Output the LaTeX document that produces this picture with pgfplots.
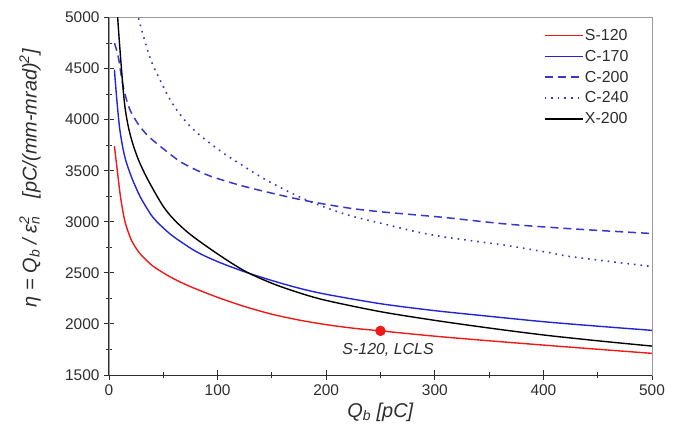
\documentclass[border=0pt]{standalone}
\usepackage{fontspec}
\setmainfont{Liberation Sans}
\usepackage{pgfplots}
\pgfplotsset{compat=1.18}
\definecolor{cred}{RGB}{240,25,25}
\definecolor{cblue}{RGB}{35,35,215}
\definecolor{cblue2}{RGB}{55,55,200}
\definecolor{ctxt}{RGB}{45,45,45}
\begin{document}
\begin{tikzpicture}
\begin{axis}[
  name=ax,
  scale only axis,
  width=543bp, height=357.5bp,
  xmin=0, xmax=500, ymin=1500, ymax=5000,
  xtick={0,100,...,500}, minor x tick num=1,
  ytick={1500,2000,...,5000}, minor y tick num=1,
  tick pos=left, tick align=center,
  major tick length=10bp, minor tick length=6bp,
  every tick/.style={ctxt, line width=0.9bp},
  axis line style={black!40, line width=0.9bp},
  clip mode=individual,
  /pgf/number format/assume math mode=true,
  /pgf/number format/set thousands separator={},
  ticklabel style={font=\fontsize{15.5}{18}\selectfont, text=ctxt},
  xticklabel style={yshift=-1bp},
  yticklabel style={xshift=-1bp},
  xlabel={\textit{Q\textsubscript{b} [pC]}},
  ylabel={\textit{η = Q\textsubscript{b} / ε\rlap{\textsuperscript{2}}\textsubscript{n}\hspace{0.9em}[pC/(mm-mrad)\textsuperscript{2}]}},
  xlabel style={at={(rel axis cs:0.5,-0.1035)}, anchor=center, font=\fontsize{20}{24}\selectfont, text=ctxt},
  ylabel style={at={(rel axis cs:-0.1455,0.551)}, anchor=center, font=\fontsize{20}{24}\selectfont, text=ctxt},
  legend style={at={(rel axis cs:0.795,0.978)}, anchor=north west, draw=none, fill=none,
    font=\fontsize{16}{19}\selectfont, text=ctxt, row sep=5.3bp,
    nodes={inner sep=1.5bp}},
  legend cell align=left,
  legend image code/.code={\draw[#1] (0bp,0bp) -- (38bp,0bp);},
  every axis plot/.append style={smooth, tension=0.5},
]
% S-120
\addplot[cred, line width=1.4bp] coordinates {
(5,3740)(6,3650)(7,3560)(8,3470)(9,3380)(10,3290)(12,3150)(15,2990)(20,2835)(25,2740)(30,2670)(40,2570)(50,2500)(60,2440)(75,2365)(100,2260)(125,2170)(150,2095)(175,2038)(200,1993)(225,1958)(250,1932)(300,1880)(350,1835)(400,1793)(450,1752)(500,1712)};
\addlegendentry{S-120}
% C-170
\addplot[cblue, line width=1.4bp] coordinates {
(5,4490)(6,4350)(7,4220)(8,4100)(10,3900)(13,3710)(16,3580)(21,3430)(25,3330)(30,3220)(40,3050)(50,2940)(60,2850)(80,2710)(100,2610)(125,2510)(150,2425)(175,2350)(200,2290)(250,2198)(300,2130)(350,2075)(400,2022)(450,1978)(500,1937)};
\addlegendentry{C-170}
% C-200
\addplot[cblue2, line width=1.5bp, dash pattern=on 8bp off 5bp] coordinates {
(5,4750)(7,4680)(9,4590)(11,4450)(13,4330)(16,4200)(20,4080)(27,3955)(36,3840)(50,3715)(67,3580)(89,3465)(104,3410)(125,3345)(150,3280)(175,3220)(200,3170)(225,3128)(250,3098)(284,3066)(311,3040)(366,2978)(428,2930)(500,2885)};
\addlegendentry{C-200}
% C-240
\addplot[cblue2, line width=1.6bp, dash pattern=on 1.6bp off 5bp] coordinates {
(25,5120)(27,5000)(33,4770)(39,4570)(46,4410)(55,4220)(63,4085)(73,3955)(85,3835)(98,3730)(107,3660)(121,3565)(135,3470)(148,3390)(170,3271)(191,3173)(222,3060)(253,2979)(284,2900)(311,2848)(366,2768)(403,2702)(428,2655)(500,2562)};
\addlegendentry{C-240}
% X-200
\addplot[black, line width=1.4bp] coordinates {
(7.5,5150)(8,5000)(10,4700)(13,4300)(15,4100)(18,3920)(22,3760)(27,3610)(33,3470)(40,3330)(50,3150)(60,3020)(75,2875)(100,2685)(125,2518)(150,2398)(175,2305)(200,2230)(250,2120)(300,2035)(350,1960)(400,1892)(450,1835)(500,1783)};
\addlegendentry{X-200}
% LCLS point
\addplot[only marks, mark=*, mark size=5bp, cred, forget plot] coordinates {(250,1932)};
\node[font=\fontsize{16}{19}\selectfont\itshape, text=ctxt] at (axis cs:257,1745) {S-120, LCLS};
\draw[ctxt, line width=1bp] (rel axis cs:0,1) -- (rel axis cs:0,0) -- (rel axis cs:1,0);
\end{axis}
\pgfresetboundingbox
\path[use as bounding box] ([shift={(-109bp,-69bp)}]ax.south west) rectangle ([shift={(42bp,17.5bp)}]ax.north east);
\end{tikzpicture}
\end{document}
